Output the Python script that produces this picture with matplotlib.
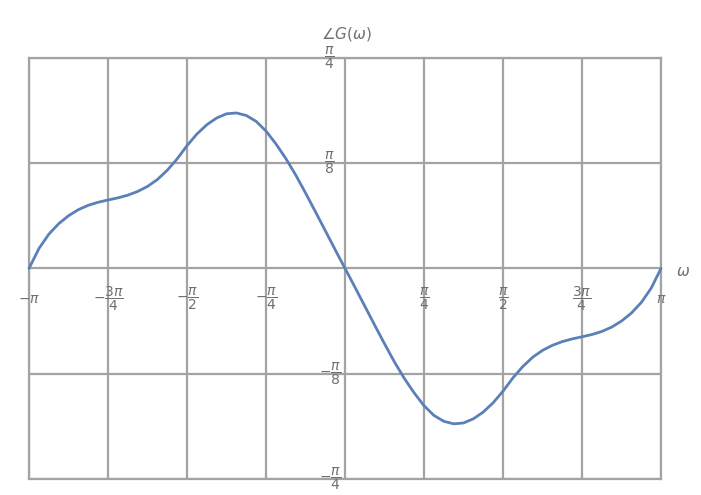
import numpy as np
import matplotlib
matplotlib.use("Agg")
import matplotlib.pyplot as plt

# frequency samples, in steps of pi/32 from -pi to pi
omega = np.linspace(-np.pi, np.pi, 65)

# phase, in units of pi
phase_over_pi = [
    0.0000, 0.0235, 0.0405, 0.0530, 0.0625, 0.0697, 0.0749, 0.0785,
    0.0812, 0.0837, 0.0869, 0.0913, 0.0973, 0.1055, 0.1165, 0.1300,
    0.1457, 0.1595, 0.1705, 0.1785, 0.1835, 0.1845, 0.1815, 0.1745,
    0.1630, 0.1478, 0.1305, 0.1110, 0.0895, 0.0673, 0.0448, 0.0222,
    0.0000,
    -0.0222, -0.0448, -0.0673, -0.0895, -0.1110, -0.1305, -0.1478, -0.1630,
    -0.1745, -0.1815, -0.1845, -0.1835, -0.1785, -0.1705, -0.1595, -0.1457,
    -0.1300, -0.1165, -0.1055, -0.0973, -0.0913, -0.0869, -0.0837, -0.0812,
    -0.0785, -0.0749, -0.0697, -0.0625, -0.0530, -0.0405, -0.0235, 0.0000,
]

x_ticks = [-4, -3, -2, -1, 0, 1, 2, 3, 4]          # multiples of pi/4
x_labels = [r"$-\pi$", r"$-\dfrac{3\pi}{4}$", r"$-\dfrac{\pi}{2}$", r"$-\dfrac{\pi}{4}$",
            "", r"$\dfrac{\pi}{4}$", r"$\dfrac{\pi}{2}$", r"$\dfrac{3\pi}{4}$", r"$\pi$"]
y_ticks = [2, 1, -1, -2]                             # multiples of pi/8
y_labels = [r"$\dfrac{\pi}{4}$", r"$\dfrac{\pi}{8}$", r"$-\dfrac{\pi}{8}$", r"$-\dfrac{\pi}{4}$"]

grid_c = "#a3a3a3"
text_c = "#707070"
line_c = "#5b80b8"

fig = plt.figure(figsize=(7.01, 4.95), dpi=100)
ax = fig.add_axes([0.0414, 0.0323, 0.9016, 0.851])
ax.set_xlim(-np.pi, np.pi)
ax.set_ylim(-np.pi / 4, np.pi / 4)

for s in ax.spines.values():
    s.set_color(grid_c)
    s.set_linewidth(1.6)
ax.set_xticks([k * np.pi / 4 for k in x_ticks])
ax.set_yticks([k * np.pi / 8 for k in [-2, -1, 0, 1, 2]])
ax.grid(True, color=grid_c, linewidth=1.6)
ax.tick_params(length=0, labelbottom=False, labelleft=False)
ax.set_axisbelow(True)

ax.plot(omega, np.array(phase_over_pi) * np.pi, color=line_c, lw=2.0,
        solid_capstyle="round", solid_joinstyle="round", zorder=3, clip_on=False)

for k, lab in zip(x_ticks, x_labels):
    if lab:
        ax.annotate(lab, (k * np.pi / 4, 0), xytext=(0, -22), textcoords="offset points",
                    ha="center", va="center", fontsize=10, color=text_c,
                    annotation_clip=False)

for k, lab in zip(y_ticks, y_labels):
    ax.annotate(lab, (0, k * np.pi / 8), xytext=(-11, 0), textcoords="offset points",
                ha="center", va="center", fontsize=10, color=text_c,
                annotation_clip=False)

ax.annotate(r"$\angle G(\omega)$", (0, np.pi / 4), xytext=(1, 17), textcoords="offset points",
            ha="center", va="center", fontsize=11, color=text_c, annotation_clip=False)
ax.annotate(r"$\omega$", (np.pi, 0), xytext=(16, -2), textcoords="offset points",
            ha="center", va="center", fontsize=11, color=text_c, annotation_clip=False)

fig.savefig("out.png", dpi=100)
